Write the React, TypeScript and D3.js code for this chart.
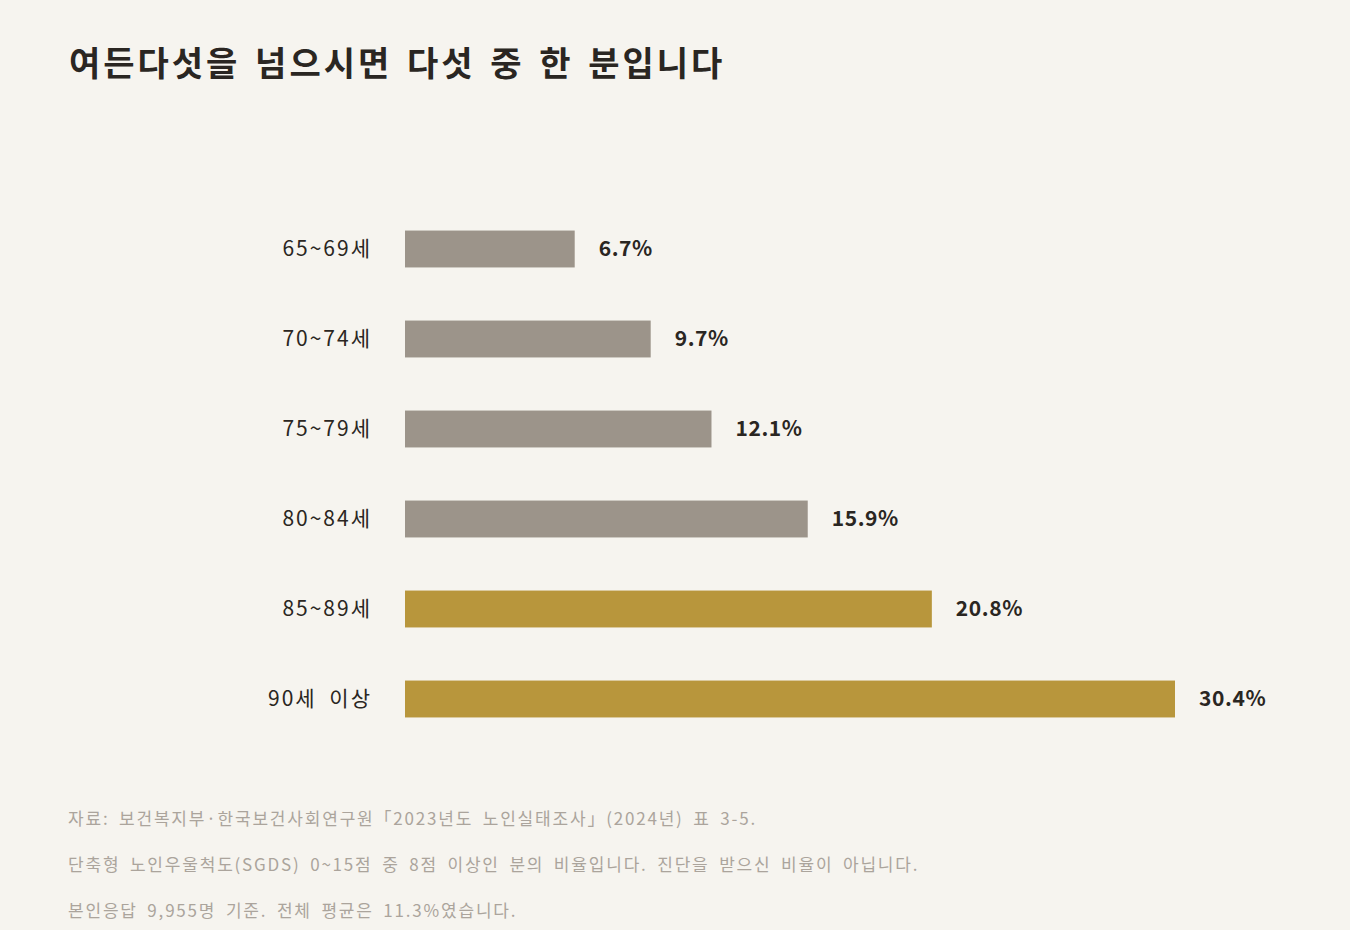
import * as d3 from 'd3';
import { useEffect, useRef } from 'react';

const categories = ['65~69세', '70~74세', '75~79세', '80~84세', '85~89세', '90세 이상'];
const values = [6.7, 9.7, 12.1, 15.9, 20.8, 30.4];
const highlighted = [false, false, false, false, true, true];
const title = '여든다섯을 넘으시면 다섯 중 한 분입니다';
const notes = [
    '자료: 보건복지부·한국보건사회연구원「2023년도 노인실태조사」(2024년) 표 3-5.',
    '단축형 노인우울척도(SGDS) 0~15점 중 8점 이상인 분의 비율입니다. 진단을 받으신 비율이 아닙니다.',
    '본인응답 9,955명 기준. 전체 평균은 11.3%였습니다.',
];

const FONT = '"Noto Sans CJK KR", "Noto Sans", sans-serif';

export default function App() {
    const ref = useRef<SVGSVGElement | null>(null);

    useEffect(() => {
        document.body.style.margin = '0';
        const svg = d3.select(ref.current);
        svg.selectAll('*').remove();

        const width = 1350;
        const height = 930;

        svg.attr('width', width).attr('height', height);

        svg.append('rect')
            .attr('width', width)
            .attr('height', height)
            .attr('fill', '#f6f4ef');

        svg.append('text')
            .attr('x', 69)
            .attr('y', 76)
            .attr('font-family', FONT)
            .attr('font-weight', 700)
            .attr('font-size', 34)
            .attr('letter-spacing', 3)
            .attr('word-spacing', 4)
            .attr('fill', '#2a2622')
            .text(title);

        const x = d3.scaleLinear()
            .domain([0, 30.4])
            .range([405, 1175]);

        const y = d3.scaleBand()
            .domain(categories)
            .range([204, 744])
            .paddingInner(0.59)
            .paddingOuter(0.295);

        const rows = categories.map((c, i) => ({ c, v: values[i], hl: highlighted[i] }));

        const g = svg.append('g');

        g.selectAll('rect.bar')
            .data(rows)
            .join('rect')
            .attr('class', 'bar')
            .attr('x', x(0))
            .attr('y', d => y(d.c)!)
            .attr('width', d => x(d.v) - x(0))
            .attr('height', y.bandwidth())
            .attr('fill', d => d.hl ? '#b8963c' : '#9c948a');

        g.selectAll('text.cat')
            .data(rows)
            .join('text')
            .attr('class', 'cat')
            .attr('x', 372)
            .attr('y', d => y(d.c)! + y.bandwidth() / 2)
            .attr('dy', '0.35em')
            .attr('text-anchor', 'end')
            .attr('font-family', FONT)
            .attr('font-size', 21)
            .attr('letter-spacing', 2)
            .attr('word-spacing', 6)
            .attr('fill', '#2a2622')
            .text(d => d.c);

        g.selectAll('text.val')
            .data(rows)
            .join('text')
            .attr('class', 'val')
            .attr('x', d => x(d.v) + 24)
            .attr('y', d => y(d.c)! + y.bandwidth() / 2)
            .attr('dy', '0.35em')
            .attr('font-family', FONT)
            .attr('font-weight', 700)
            .attr('font-size', 21)
            .attr('letter-spacing', 0.6)
            .attr('fill', '#2a2622')
            .text(d => `${d.v.toFixed(1)}%`);

        svg.selectAll('text.note')
            .data(notes)
            .join('text')
            .attr('class', 'note')
            .attr('x', 68)
            .attr('y', (_, i) => 825 + i * 46)
            .attr('font-family', FONT)
            .attr('font-size', 17)
            .attr('letter-spacing', 1.8)
            .attr('word-spacing', 4)
            .attr('fill', '#aba49c')
            .text(d => d);
    }, []);

    return <svg ref={ref} style={{ display: 'block' }}></svg>;
}
